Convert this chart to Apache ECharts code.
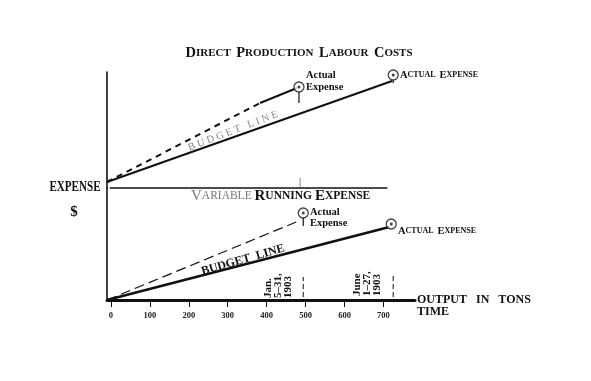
<!DOCTYPE html>
<html>
<head>
<meta charset="utf-8">
<script src="https://cdn.jsdelivr.net/npm/echarts@6/dist/echarts.min.js"></script>
<style>html,body{margin:0;padding:0;background:#fff}#c{width:591px;height:381px}</style>
</head>
<body>
<div id="c"></div>
<script>
// ---- data (tons of output vs. expense units) ----
const xTicks = [0, 100, 200, 300, 400, 500, 600, 700];
const upperBudget = [[-10, 0], [722, 101]];
const upperActualDashed = [[-10, 0], [383, 79]];
const upperActualSolid = [[383, 79], [478, 94]];
const upperActualPoints = [[483, 95], [725, 107]];
const upperStems = [[[483, 90], [483, 79]], [[725, 102], [725, 99]]];
const upperBaseline = [[-3, -6], [710, -6]];
const upperBaseTick = [[486, -5], [486, 4]];
const lowerBudget = [[-10, 0], [715, 73]];
const lowerActualDashed = [[-10, 0], [476, 78]];
const lowerActualPoints = [[494, 87], [720, 76]];
const lowerStems = [[[494, 82], [494, 74]]];
const periodMarks = [[[494, 3], [494, 23]], [[725, 3], [725, 27]]];

const SERIF = '"Liberation Serif", "DejaVu Serif", serif';
const INK = '#111';

function line(data, xi, opts) {
  return Object.assign({
    type: 'line', xAxisIndex: xi, yAxisIndex: xi, data: data,
    showSymbol: false, silent: true, clip: false, animation: false,
    lineStyle: { color: INK, width: 2 }
  }, opts || {});
}
const series = [];
series.push(line(upperBudget, 0, { lineStyle: { color: INK, width: 2 } }));
series.push(line(upperActualDashed, 0, { lineStyle: { color: INK, width: 2, type: [6, 5] } }));
series.push(line(upperActualSolid, 0, { lineStyle: { color: INK, width: 2 } }));
upperStems.forEach(s => series.push(line(s, 0, { lineStyle: { color: INK, width: 1.2 } })));
series.push(line(upperBaseline, 0, { lineStyle: { color: INK, width: 1.6 } }));
series.push(line(upperBaseTick, 0, { lineStyle: { color: '#888', width: 1 } }));
series.push(line(lowerBudget, 1, { lineStyle: { color: INK, width: 2.6 } }));
series.push(line(lowerActualDashed, 1, { lineStyle: { color: INK, width: 1.2, type: [10, 5] } }));
lowerStems.forEach(s => series.push(line(s, 1, { lineStyle: { color: INK, width: 1.2 } })));
periodMarks.forEach(s => series.push(line(s, 1, { lineStyle: { color: INK, width: 1, type: [5, 3] } })));
[[upperActualPoints, 0], [lowerActualPoints, 1]].forEach(([pts, i]) => {
  series.push({ type: 'scatter', xAxisIndex: i, yAxisIndex: i, data: pts, symbol: 'circle', symbolSize: 10,
    silent: true, animation: false, clip: false, z: 5,
    itemStyle: { color: '#fff', borderColor: INK, borderWidth: 1.3 } });
  series.push({ type: 'scatter', xAxisIndex: i, yAxisIndex: i, data: pts, symbol: 'circle', symbolSize: 3,
    silent: true, animation: false, clip: false, z: 6, itemStyle: { color: INK } });
});

function sc(words, gap) {
  return words.split(' ').map(w => '{b|' + w[0] + '}{s|' + w.slice(1) + '}').join('{s|' + (gap || '  ') + '}');
}
function scRich(big, small, weight, color) {
  return {
    b: { fontFamily: SERIF, fontSize: big, fontWeight: weight, fill: color || INK, color: color || INK },
    s: { fontFamily: SERIF, fontSize: small, fontWeight: weight, fill: color || INK, color: color || INK }
  };
}

const graphic = [
  { type: 'text', style: { x: 299, y: 53, text: sc('DIRECT PRODUCTION LABOUR COSTS'), rich: scRich(14.5, 11, 'bold'), align: 'center', verticalAlign: 'middle' } },
  { type: 'text', style: { x: 191, y: 196, text: '{b2|V}{s2|ARIABLE}{s| }' + sc('RUNNING EXPENSE', ' '),
      rich: Object.assign(scRich(15, 11.5, 'bold'), {
        b2: { fontFamily: SERIF, fontSize: 15, fontWeight: 'normal', fill: '#777' },
        s2: { fontFamily: SERIF, fontSize: 11.5, fontWeight: 'normal', fill: '#777' } }), align: 'left', verticalAlign: 'middle' } },
  { type: 'text', style: { x: 306, y: 81, text: 'Actual\nExpense', font: 'bold 10.5px ' + SERIF, fill: INK, lineHeight: 12, align: 'left', verticalAlign: 'middle' } },
  { type: 'text', style: { x: 400, y: 75, text: sc('ACTUAL EXPENSE'), rich: scRich(10.5, 8, 'bold'), align: 'left', verticalAlign: 'middle' } },
  { type: 'text', style: { x: 310, y: 218, text: 'Actual\nExpense', font: 'bold 10.5px ' + SERIF, fill: INK, lineHeight: 11, align: 'left', verticalAlign: 'middle' } },
  { type: 'text', style: { x: 398, y: 231, text: sc('ACTUAL EXPENSE'), rich: scRich(10.5, 8, 'bold'), align: 'left', verticalAlign: 'middle' } },
  { type: 'text', x: 233, y: 131, rotation: 21 * Math.PI / 180, style: { x: 0, y: 0, text: 'B U D G E T   L I N E', font: '10.5px ' + SERIF, fill: '#888', align: 'center', verticalAlign: 'middle' } },
  { type: 'text', x: 243, y: 260, rotation: 16 * Math.PI / 180, style: { x: 0, y: 0, text: 'BUDGET  LINE', font: 'bold 12px ' + SERIF, fill: INK, align: 'center', verticalAlign: 'middle' } },
  { type: 'text', x: 263, y: 298, rotation: Math.PI / 2, style: { x: 0, y: 0, text: 'Jan.\n5–31,\n1903', font: 'bold 11px ' + SERIF, fill: INK, lineHeight: 10, align: 'left', verticalAlign: 'top' } },
  { type: 'text', x: 352, y: 296, rotation: Math.PI / 2, style: { x: 0, y: 0, text: 'June\n1–27,\n1903', font: 'bold 11px ' + SERIF, fill: INK, lineHeight: 10, align: 'left', verticalAlign: 'top' } },
  { type: 'text', style: { x: 417, y: 294, text: 'OUTPUT   IN   TONS\nTIME', font: 'bold 12px ' + SERIF, fill: INK, lineHeight: 12, align: 'left', verticalAlign: 'top' } },
  { type: 'text', x: 75, y: 187, scaleX: 0.74, style: { x: 0, y: 0, text: 'EXPENSE', font: 'bold 15px ' + SERIF, fill: INK, align: 'center', verticalAlign: 'middle' } },
  { type: 'text', style: { x: 74, y: 212, text: '$', font: 'bold 15px ' + SERIF, fill: INK, align: 'center', verticalAlign: 'middle' } }
];

const chart = echarts.init(document.getElementById('c'), null, { renderer: 'canvas' });
chart.setOption({
  backgroundColor: '#fff',
  animation: false,
  grid: [
    { left: 107, right: 176, top: 72, height: 116 },
    { left: 107, right: 176, top: 188, height: 112 }
  ],
  xAxis: [
    { gridIndex: 0, type: 'value', min: -10, max: 781, show: false },
    { gridIndex: 1, type: 'value', min: -10, max: 781,
      axisLine: { show: true, onZero: false, lineStyle: { color: INK, width: 3 } },
      axisTick: { show: true, customValues: xTicks, length: 7, lineStyle: { color: INK, width: 1 } },
      axisLabel: { show: true, customValues: xTicks, fontSize: 8.5, fontFamily: SERIF, fontWeight: 'bold', color: '#222', margin: 11 },
      splitLine: { show: false } }
  ],
  yAxis: [
    { gridIndex: 0, type: 'value', min: -6, max: 110,
      axisLine: { show: true, onZero: false, lineStyle: { color: INK, width: 1.6 } },
      axisTick: { show: false }, axisLabel: { show: false }, splitLine: { show: false } },
    { gridIndex: 1, type: 'value', min: 0, max: 112,
      axisLine: { show: true, onZero: false, lineStyle: { color: INK, width: 1.6 } },
      axisTick: { show: false }, axisLabel: { show: false }, splitLine: { show: false } }
  ],
  series: series,
  graphic: graphic
});
</script>
</body>
</html>
